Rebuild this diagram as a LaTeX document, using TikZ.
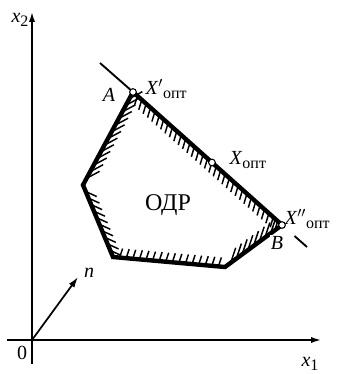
\documentclass[tikz,border=0pt]{standalone}
\usepackage{fontspec}
\setmainfont{Liberation Serif}
\usetikzlibrary{arrows.meta,calc}

\newcommand{\lowidx}[1]{\raisebox{-0.4ex}{\fontsize{12}{12}\selectfont #1}}

\begin{document}
\begin{tikzpicture}[x=0.75pt,y=-0.75pt,
  font=\fontsize{15}{17}\selectfont,
  axis/.style={line width=2pt,-{Latex[length=9pt,width=4.5pt]}},
  border/.style={line width=3.3pt,line join=miter},
  ray/.style={line width=1.4pt},
  hatch/.style={line width=1.1pt},
  pt/.style={circle,draw,fill=white,line width=0.8pt,inner sep=0pt,minimum size=5pt},
  lbl/.style={inner sep=1pt}]

\useasboundingbox (0,0) rectangle (336,374);

% axes
\coordinate (O)  at (32,340);
\coordinate (xl) at (7,340);
\coordinate (xr) at (323,340);
\coordinate (yb) at (32,364);
\coordinate (yt) at (32,10);
\draw[axis] (xl) -- (xr);
\draw[axis] (yb) -- (yt);
\node[lbl] (lx1) at (310,364) {\textit{x}\lowidx{1}};
\node[lbl] (lx2) at (20,20) {\textit{x}\lowidx{2}};
\node[lbl] (lo)  at (22,353) {0};

% normal vector
\coordinate (ntip) at (78,277);
\draw[line width=1.3pt,-{Latex[length=8pt,width=5pt]}] (O) -- (ntip);
\node[lbl] (ln) at (89,273) {\textit{n}};

% feasible region
\coordinate (A)  at (133,92);
\coordinate (L)  at (83,185);
\coordinate (BL) at (113,257);
\coordinate (BR) at (225,267);
\coordinate (B)  at (282,225);
\coordinate (T)  at (100,63);
\coordinate (E)  at (307,247);
\coordinate (Xm) at ($(A)!0.53!(B)$);

\foreach \i in {1,...,13} \draw[hatch] ($(A)!{\i/14}!(L)$) -- ++(13,-7);
\foreach \i in {1,...,10} \draw[hatch] ($(L)!{\i/11}!(BL)$) -- ++(11,5);
\foreach \i in {1,...,16} \draw[hatch] ($(BL)!{\i/17}!(BR)$) -- ++(3,-9);
\foreach \i in {1,...,8}  \draw[hatch] ($(BR)!{\i/10}!(B)$) -- ++(5,-15);
\foreach \i in {1,...,33} \draw[hatch] ($(A)!{\i/34}!(B)$) -- ++(-3,10);

\draw[border] (A) -- (L) -- (BL) -- (BR) -- (B) -- cycle;
\draw[ray] (T) -- (A);
\draw[ray] ($(B)!0.5!(E)$) -- (E);

\node[pt] (pA) at (A) {};
\node[pt] (pX) at (Xm) {};
\node[pt] (pB) at (B) {};

\node[lbl] (la) at (109,95) {\textit{A}};
\node[lbl,fill=white] (lb) at (277,243) {\textit{B}};
\node[lbl,anchor=west] (lxa) at (144,89) {\textit{X}$'$\lowidx{опт}};
\node[lbl,anchor=west] (lxm) at (228,160) {\textit{X}\lowidx{опт}};
\node[lbl,anchor=west] (lxb) at (283,219) {\textit{X}$''$\lowidx{опт}};
\node[lbl,font=\fontsize{18}{20}\selectfont] (odr) at (168,205) {ОДР};
\end{tikzpicture}
\end{document}
